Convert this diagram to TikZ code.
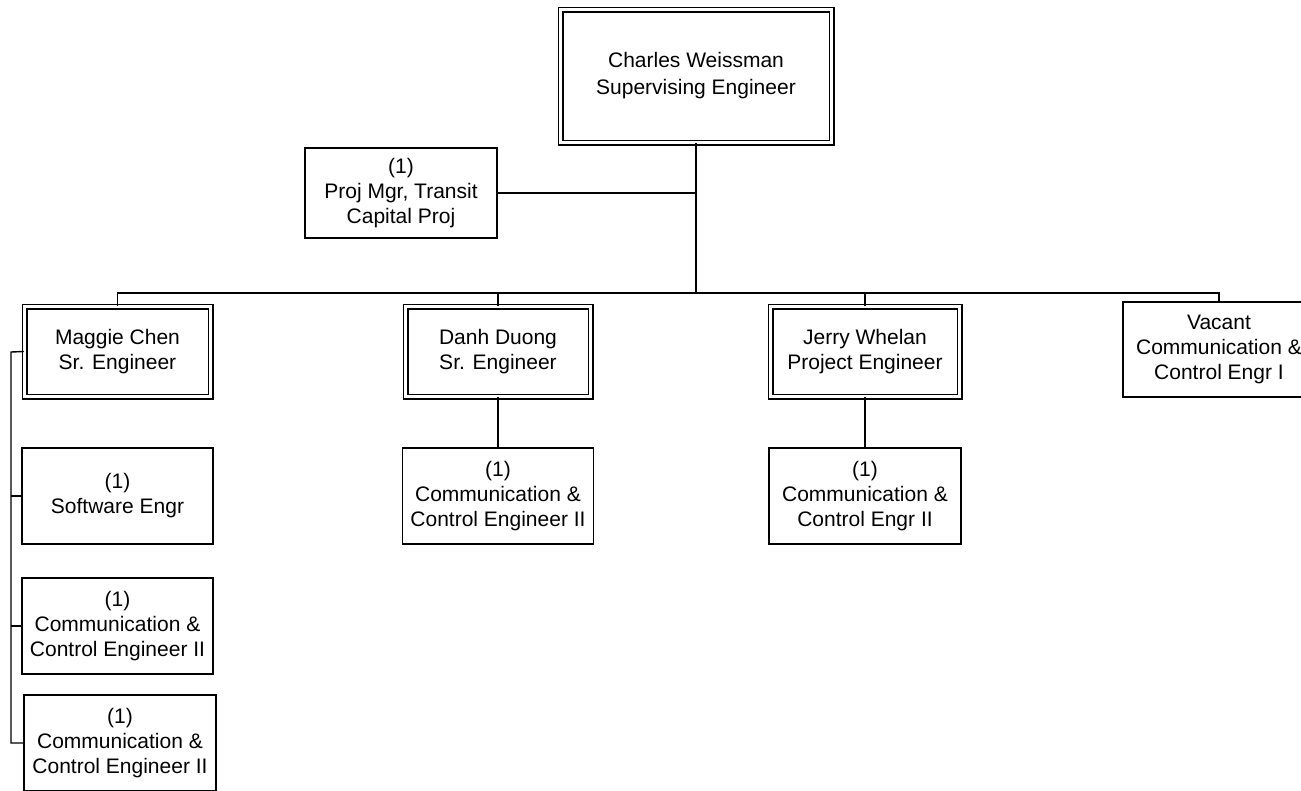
\documentclass[tikz,border=0pt]{standalone}
\usepackage{fontspec}
\setmainfont{Liberation Sans}
\begin{document}
\begin{tikzpicture}[x=1pt,y=-1pt,
  every node/.style={font=\fontsize{21}{25}\selectfont, align=center, inner sep=0pt},
  single/.style={draw, line width=1.4pt, minimum width=#1, minimum height=95},
  single/.default=192,
  dbl/.style={draw, line width=1.5pt, double=white, double distance=3pt, minimum width=#1, minimum height=90},
  dbl/.default=186,
  conn/.style={line width=1.4pt}]
\useasboundingbox (0,0) rectangle (1301,790);
\clip (0,0) rectangle (1301,790);
\fill[white] (0,0) rectangle (1301,790);

% top
\node[dbl=271, minimum height=133, font=\fontsize{21}{27}\selectfont] (top) at (696,76) {Charles Weissman\\Supervising Engineer};
\node[single=192, minimum height=90] (proj) at (401,193) {(1)\\Proj Mgr, Transit\\Capital Proj};

% level 2
\node[dbl=186] (maggie) at (117.5,351.5) {Maggie Chen\\Sr. Engineer};
\node[dbl=185] (danh) at (498,351.5) {Danh Duong\\Sr. Engineer};
\node[dbl=189] (jerry) at (865,351.5) {Jerry Whelan\\Project Engineer};
\node[single=192] (vacant) at (1219,349.5) {Vacant\\Communication \&\\Control Engr I};

% level 3
\node[single=191, minimum height=96] (dchild) at (498,496) {(1)\\Communication \&\\Control Engineer II};
\node[single=192, minimum height=96] (jchild) at (865,496) {(1)\\Communication \&\\Control Engr II};
\node[single=191, minimum height=96] (m1) at (117.5,496) {(1)\\Software Engr};
\node[single=191, minimum height=96] (m2) at (117.5,626) {(1)\\Communication \&\\Control Engineer II};
\node[single=192, minimum height=96] (m3) at (120,743) {(1)\\Communication \&\\Control Engineer II};

% connectors
\coordinate (bus) at (696,293);
\coordinate (mbus) at (11,352);
\draw[conn] (top.south) -- (bus);
\draw[conn] (proj.east) -- (proj.east -| bus);
\draw[conn] (maggie.north) |- (bus) -| (vacant.north);
\draw[conn] (danh.north) -- (danh.north |- bus);
\draw[conn] (jerry.north) -- (jerry.north |- bus);
\draw[conn] (danh.south) -- (dchild.north);
\draw[conn] (jerry.south) -- (jchild.north);
\draw[conn] (maggie.west) -- (mbus) |- (m3.west);
\draw[conn] (m1.west) -- (m1.west -| mbus);
\draw[conn] (m2.west) -- (m2.west -| mbus);
\end{tikzpicture}
\end{document}
